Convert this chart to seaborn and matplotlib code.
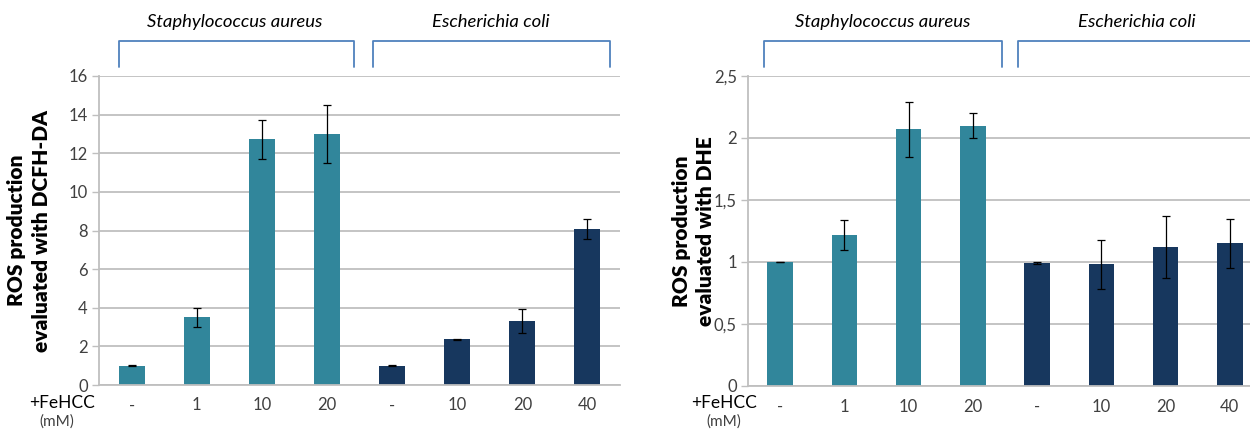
import matplotlib
matplotlib.use("Agg")
import matplotlib.pyplot as plt
import seaborn as sns
import pandas as pd

# ---- data ----
species = ["Staphylococcus aureus"] * 4 + ["Escherichia coli"] * 4
doses = ["-", "1", "10", "20", "-", "10", "20", "40"]

dcfh_mean = [1.0, 3.5, 12.72, 13.0, 1.0, 2.36, 3.32, 8.08]
dcfh_err = [0.03, 0.5, 1.0, 1.5, 0.03, 0.03, 0.62, 0.5]

dhe_mean = [1.0, 1.22, 2.07, 2.10, 0.99, 0.98, 1.12, 1.15]
dhe_err = [0.0, 0.12, 0.22, 0.10, 0.01, 0.20, 0.25, 0.20]

dcfh_ticks = [0, 2, 4, 6, 8, 10, 12, 14, 16]
dhe_ticks = [0, 0.5, 1, 1.5, 2, 2.5]
dhe_ticklabels = ["0", "0,5", "1", "1,5", "2", "2,5"]

palette = {"Staphylococcus aureus": "#31869B", "Escherichia coli": "#17375E"}
grid_c = "#BFBFBF"
text_c = "#404040"
bracket_c = "#4F81BD"

sns.set_theme(style="white")
plt.rcParams["font.family"] = ["Lato", "DejaVu Sans"]


def panel(ax, means, errs, ylabel, ymax, ticks, ticklabels, brk, lab_x, label_x):
    df = pd.DataFrame({"pos": list(range(len(means))), "value": means, "species": species})
    sns.barplot(data=df, x="pos", y="value", hue="species", palette=palette,
                dodge=False, width=0.4, errorbar=None, legend=False, ax=ax,
                linewidth=0, saturation=1)
    ax.errorbar(df["pos"], df["value"], yerr=errs, fmt="none", ecolor="black",
                elinewidth=0.9, capsize=3, capthick=0.9)
    ax.set_xlim(-0.5, len(means) - 0.5)
    ax.set_ylim(0, ymax)
    ax.set_yticks(ticks)
    ax.set_yticklabels(ticklabels, fontsize=12, color=text_c)
    ax.set_xticks(range(len(doses)))
    ax.set_xticklabels(doses, fontsize=12, color=text_c)
    ax.tick_params(axis="x", length=0, pad=9)
    ax.tick_params(axis="y", length=5, width=1, color=grid_c, pad=3, left=True)
    ax.yaxis.grid(True, color=grid_c, linewidth=1.3)
    ax.set_axisbelow(True)
    for s in ["top", "right"]:
        ax.spines[s].set_visible(False)
    for s in ["left", "bottom"]:
        ax.spines[s].set_color(grid_c)
        ax.spines[s].set_linewidth(1.3)
    ax.set_xlabel("")
    ax.set_ylabel(ylabel, fontsize=15, fontweight="heavy", family="Lato",
                  color="black", linespacing=1.35)
    ax.yaxis.set_label_coords(label_x, 0.5)

    tr = ax.get_xaxis_transform()
    for (x0, x1), name, lx in zip(brk, ["Staphylococcus aureus", "Escherichia coli"], lab_x):
        ax.plot([x0, x0, x1, x1], [1.029, 1.113, 1.113, 1.029], color=bracket_c,
                linewidth=1.3, transform=tr, clip_on=False, solid_joinstyle="round")
        ax.text(lx, 1.175, name, transform=tr, ha="center", va="center",
                fontsize=13.3, style="italic", color="black")


fig = plt.figure(figsize=(12.5, 4.3), dpi=100)
ax1 = fig.add_axes([99 / 1250, 45 / 430, 521 / 1250, 309 / 430])
ax2 = fig.add_axes([748 / 1250, 44 / 430, 514 / 1250, 310 / 430])

panel(ax1, dcfh_mean, dcfh_err, "ROS production\nevaluated with DCFH-DA", 16,
      dcfh_ticks, [str(t) for t in dcfh_ticks],
      [(-0.19, 3.42), (3.7, 7.35)], [1.59, 5.52], -0.093)
panel(ax2, dhe_mean, dhe_err, "ROS production\nevaluated with DHE", 2.5,
      dhe_ticks, dhe_ticklabels,
      [(-0.25, 3.45), (3.7, 7.39)], [1.6, 5.55], -0.064)

for x in [62, 724]:
    fig.text(x / 1250, (430 - 403) / 430, "+FeHCC", ha="center", va="center",
             fontsize=12.5, color="black")
    fig.text(x / 1250 - (5 / 1250 if x == 62 else 0), (430 - 422) / 430, "(mM)",
             ha="center", va="center", fontsize=11, color=text_c)

fig.savefig("out.png", dpi=100)
